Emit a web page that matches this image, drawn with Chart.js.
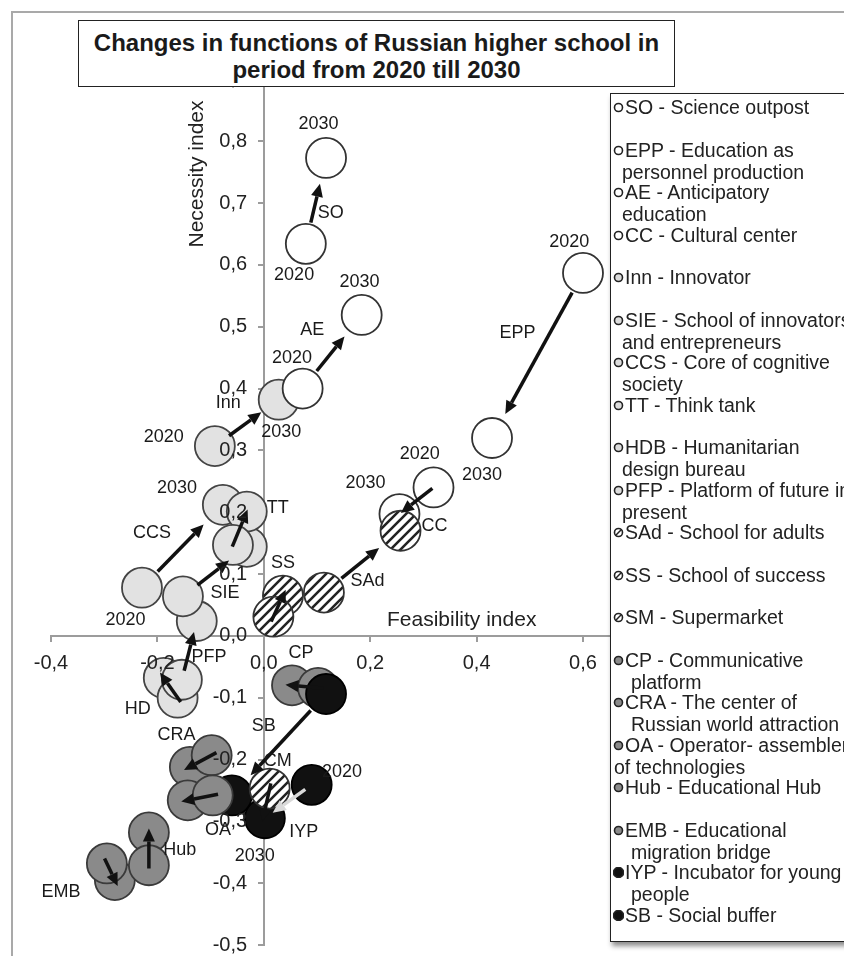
<!DOCTYPE html>
<html>
<head>
<meta charset="utf-8">
<script src="https://cdn.jsdelivr.net/npm/chart.js@4.4.1/dist/chart.umd.min.js"></script>
<style>
  body { margin: 0; width: 844px; height: 956px; overflow: hidden; background: #fff; position: relative;
         font-family: Arial, "Liberation Sans", sans-serif; }
  #frame { position: absolute; left: 11px; top: 11px; width: 900px; height: 1000px; border: 2px solid #a9a9a9; }
  #chart { position: absolute; left: 0; top: 0; }
  #title { position: absolute; left: 78px; top: 20px; width: 597px; height: 67px; box-sizing: border-box;
           border: 1.5px solid #222; background: #fff; text-align: center; font-weight: bold;
           font-size: 24px; line-height: 27px; padding-top: 8px; color: #1a1a1a; }
  #legend { position: absolute; left: 610px; top: 93px; width: 270px; height: 849px; box-sizing: border-box;
            border: 1.5px solid #222; background: #fff; box-shadow: 2px 4px 5px rgba(0,0,0,0.45);
            padding-top: 2px; padding-left: 2px; color: #222; font-size: 19.5px; }
  .entry { height: 42.5px; line-height: 22px; white-space: nowrap; }
  .entry svg { vertical-align: 1px; margin-right: 1px; }
</style>
</head>
<body>
<div id="frame"></div>
<canvas id="chart" width="844" height="956"></canvas>
<div id="title">Changes in functions of Russian higher school in<br>period from 2020 till 2030</div>
<div id="legend"></div>
<script>
// functions of higher school, 2020 -> 2030
const codes = ['SO', 'EPP', 'AE', 'CC', 'Inn', 'SIE', 'CCS', 'TT', 'HDB', 'PFP',
  'SAd', 'SS', 'SM', 'CP', 'CRA', 'OA', 'Hub', 'EMB', 'IYP', 'SB'];
const names = [
  'SO - Science outpost', 'EPP - Education as\npersonnel production', 'AE - Anticipatory\neducation',
  'CC - Cultural center', 'Inn - Innovator', 'SIE - School of innovators\nand entrepreneurs',
  'CCS - Core of cognitive\nsociety', 'TT - Think tank', 'HDB - Humanitarian\ndesign bureau',
  'PFP - Platform of future in\npresent', 'SAd - School for adults', 'SS - School of success',
  'SM - Supermarket', 'CP - Communicative\nplatform', 'CRA - The center of\nRussian world attraction',
  'OA - Operator- assembler\nof technologies', 'Hub - Educational Hub', 'EMB - Educational\nmigration bridge',
  'IYP - Incubator for young\npeople', 'SB - Social buffer'];
const group = [0, 0, 0, 0, 1, 1, 1, 1, 1, 1, 2, 2, 2, 3, 3, 3, 3, 3, 4, 4];

const x2020 = [0.079, 0.600, 0.073, 0.319, -0.092, -0.152, -0.229, -0.058, -0.162, -0.154,
  0.113, 0.018, 0.011, 0.102, -0.098, -0.096, -0.216, -0.295, 0.090, 0.117];
const y2020 = [0.634, 0.587, 0.400, 0.240, 0.307, 0.064, 0.078, 0.147, -0.100, -0.071,
  0.070, 0.031, -0.247, -0.084, -0.193, -0.258, -0.371, -0.368, -0.241, -0.094];
const x2030 = [0.117, 0.429, 0.184, 0.255, 0.028, -0.032, -0.077, -0.032, -0.188, -0.126,
  0.257, 0.036, 0.000, 0.053, -0.139, -0.143, -0.216, -0.280, 0.002, -0.060];
const y2030 = [0.773, 0.320, 0.519, 0.197, 0.382, 0.144, 0.212, 0.201, -0.068, 0.024,
  0.170, 0.065, -0.290, -0.080, -0.212, -0.266, -0.318, -0.395, -0.295, -0.258];

// text labels on the plot
const noteText = ['2030', 'SO', '2020', '2030', '2020', 'AE', 'EPP', '2020', 'Inn', '2030', '2020',
  '2020', '2030', '2030', '2030', 'TT', 'CC', 'CCS', 'SS', 'SAd', 'SIE', '2020',
  'PFP', 'CP', 'HD', 'SB', 'CRA', 'CM', '2020', 'OA', 'IYP', 'Hub', '2030', 'EMB'];
const noteX = [0.103, 0.126, 0.057, 0.180, 0.574, 0.091, 0.477, 0.053, -0.067, 0.033, -0.188,
  0.293, 0.410, 0.191, -0.163, 0.026, 0.321, -0.210, 0.036, 0.195, -0.073, -0.260,
  -0.103, 0.070, -0.237, 0.000, -0.164, 0.026, 0.147, -0.086, 0.075, -0.158, -0.017, -0.381];
const noteY = [0.828, 0.684, 0.584, 0.572, 0.637, 0.495, 0.490, 0.449, 0.377, 0.330, 0.322,
  0.294, 0.260, 0.247, 0.239, 0.207, 0.178, 0.167, 0.118, 0.088, 0.070, 0.026,
  -0.034, -0.028, -0.118, -0.146, -0.160, -0.202, -0.221, -0.314, -0.317, -0.346, -0.356, -0.414];

// hatch pattern for the "school" group
function makeHatch() {
  const c = document.createElement('canvas');
  c.width = 10; c.height = 10;
  const g = c.getContext('2d');
  g.fillStyle = '#fff';
  g.fillRect(0, 0, 10, 10);
  g.strokeStyle = '#222';
  g.lineWidth = 2.6;
  g.beginPath();
  g.moveTo(-5, 15); g.lineTo(15, -5);
  g.moveTo(-5, 5); g.lineTo(5, -5);
  g.moveTo(5, 15); g.lineTo(15, 5);
  g.stroke();
  return document.getElementById('chart').getContext('2d').createPattern(c, 'repeat');
}
const fills = ['#ffffff', '#e2e2e2', makeHatch(), '#8a8a8a', '#111111'];
const fillCss = ['#ffffff', '#dcdcdc', '#ffffff', '#8a8a8a', '#111111'];
const edges = ['#333', '#444', '#333', '#3a3a3a', '#000'];

const fmt = v => Math.abs(v) < 1e-9 ? '0,0' : v.toFixed(1).replace('.', ',');

// legend
const legend = document.getElementById('legend');
const wrapIndent = { CP: 18, CRA: 18, EMB: 18, IYP: 18, OA: 1 };
codes.forEach((c, i) => {
  const gi = group[i];
  const r = gi === 4 ? 5 : 4;
  let mark = `<circle cx="5.5" cy="5.5" r="${r}" fill="${fillCss[gi]}" stroke="#222" stroke-width="1.6"/>`;
  if (gi === 2) mark += '<line x1="2.8" y1="8.2" x2="8.2" y2="2.8" stroke="#222" stroke-width="1.5"/>';
  const lines = names[i].split('\n');
  let html = `<svg width="11" height="11">${mark}</svg>${lines[0]}`;
  if (lines[1]) html += `<br><span style="padding-left:${wrapIndent[c] !== undefined ? wrapIndent[c] : 9}px">${lines[1]}</span>`;
  const div = document.createElement('div');
  div.className = 'entry';
  div.innerHTML = html;
  legend.appendChild(div);
});

const arrowsAndNotes = {
  id: 'arrowsAndNotes',
  afterDatasetsDraw(chart) {
    const { ctx } = chart;
    const xs = chart.scales.x, ys = chart.scales.y;
    ctx.save();
    codes.forEach((c, i) => {
      const x0 = xs.getPixelForValue(x2020[i]), y0 = ys.getPixelForValue(y2020[i]);
      const x1 = xs.getPixelForValue(x2030[i]), y1 = ys.getPixelForValue(y2030[i]);
      const d = Math.hypot(x1 - x0, y1 - y0);
      const ux = (x1 - x0) / d, uy = (y1 - y0) / d;
      const len = d > 60 ? Math.max(40, d - 50) : Math.min(d + 12, 40);
      const s = (d - len) * 0.45;
      const sx = x0 + ux * s, sy = y0 + uy * s;
      const ex = sx + ux * len, ey = sy + uy * len;
      const head = 13, hw = 6;
      const bx = ex - ux * head, by = ey - uy * head;
      const col = c === 'IYP' ? '#d9d9d9' : '#111';
      ctx.strokeStyle = col;
      ctx.fillStyle = col;
      ctx.lineWidth = 3.5;
      ctx.beginPath();
      ctx.moveTo(sx, sy);
      ctx.lineTo(bx, by);
      ctx.stroke();
      ctx.beginPath();
      ctx.moveTo(ex, ey);
      ctx.lineTo(bx - uy * hw, by + ux * hw);
      ctx.lineTo(bx + uy * hw, by - ux * hw);
      ctx.closePath();
      ctx.fill();
    });

    ctx.fillStyle = '#1a1a1a';
    ctx.textAlign = 'center';
    ctx.textBaseline = 'middle';
    ctx.font = '18px Arial, "Liberation Sans", sans-serif';
    noteText.forEach((t, i) => {
      ctx.fillText(t, xs.getPixelForValue(noteX[i]), ys.getPixelForValue(noteY[i]));
    });

    // axis titles
    ctx.font = '21px Arial, "Liberation Sans", sans-serif';
    ctx.fillStyle = '#222';
    ctx.fillText('Feasibility index', xs.getPixelForValue(0.372), ys.getPixelForValue(0.026));
    ctx.translate(xs.getPixelForValue(-0.126), ys.getPixelForValue(0.747));
    ctx.rotate(-Math.PI / 2);
    ctx.fillText('Necessity index', 0, 0);
    ctx.restore();
  }
};

const pointStyle = {
  radius: 20,
  hoverRadius: 20,
  borderWidth: 1.8,
  backgroundColor: ctx => fills[group[ctx.dataIndex]],
  borderColor: ctx => edges[group[ctx.dataIndex]]
};

// the crossing axes should not push the plot area in from the edges
const noEdgePadding = s => {
  s.paddingTop = 0; s.paddingBottom = 0; s.paddingLeft = 0; s.paddingRight = 0;
};

new Chart(document.getElementById('chart'), {
  type: 'scatter',
  data: {
    datasets: [
      { label: '2020', order: 0, data: codes.map((c, i) => ({ x: x2020[i], y: y2020[i] })), ...pointStyle },
      { label: '2030', order: 1, data: codes.map((c, i) => ({ x: x2030[i], y: y2030[i] })), ...pointStyle }
    ]
  },
  options: {
    responsive: false,
    animation: false,
    events: [],
    layout: { autoPadding: false, padding: { left: 51, right: 154.6, top: 79.4, bottom: 11 } },
    plugins: { legend: { display: false }, tooltip: { enabled: false } },
    scales: {
      x: {
        type: 'linear', position: { y: 0 }, min: -0.4, max: 0.8,
        afterFit: noEdgePadding,
        ticks: { stepSize: 0.2, callback: fmt, color: '#222', padding: 11, z: 1, maxRotation: 0,
                 font: { size: 20, family: 'Arial, "Liberation Sans", sans-serif' } },
        grid: { drawOnChartArea: false, tickLength: 5, color: '#9c9c9c', lineWidth: 2 },
        border: { color: '#9c9c9c', width: 2 }
      },
      y: {
        type: 'linear', position: { x: 0 }, min: -0.5, max: 0.9,
        afterFit: noEdgePadding,
        // centred axis ignores ticks.padding, so trailing spaces keep labels off the axis
        ticks: { stepSize: 0.1, callback: v => fmt(v) + '   ', color: '#222', padding: 0, z: 1,
                 font: { size: 20, family: 'Arial, "Liberation Sans", sans-serif' } },
        grid: { drawOnChartArea: false, tickLength: 5, color: '#9c9c9c', lineWidth: 2 },
        border: { color: '#9c9c9c', width: 2 }
      }
    }
  },
  plugins: [arrowsAndNotes]
});
</script>
</body>
</html>
